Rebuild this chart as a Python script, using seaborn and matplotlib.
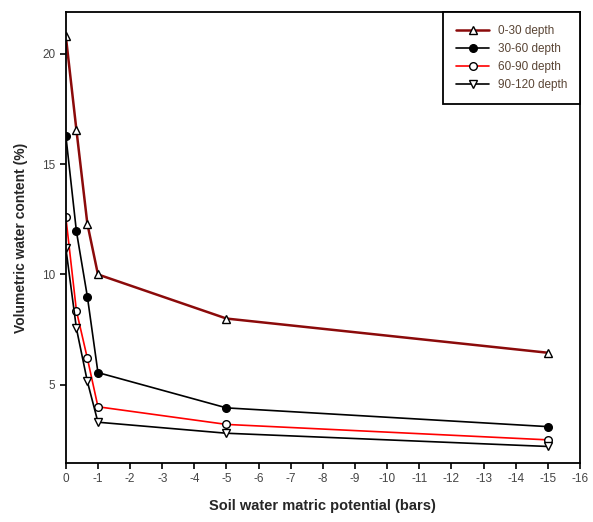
import numpy as np
import pandas as pd
import matplotlib
matplotlib.use("Agg")
import matplotlib.pyplot as plt
import seaborn as sns

potential = [0, -0.33, -0.67, -1, -5, -15]
depth_0_30 = [20.8, 16.55, 12.3, 10.0, 8.0, 6.45]
depth_30_60 = [16.3, 11.95, 9.0, 5.55, 3.95, 3.1]
depth_60_90 = [12.6, 8.35, 6.2, 4.0, 3.2, 2.5]
depth_90_120 = [11.2, 7.55, 5.15, 3.3, 2.8, 2.2]
labels = ["0-30 depth", "30-60 depth", "60-90 depth", "90-120 depth"]
x_ticks = list(range(0, -17, -1))
y_ticks = [5, 10, 15, 20]

sns.set_theme(style="ticks")
plt.rcParams['font.family'] = ['Liberation Sans', 'DejaVu Sans']

fig = plt.figure(figsize=(5.93, 5.22), dpi=100)
ax = fig.add_axes([0.111, 0.113, 0.867, 0.864])

styles = [
    dict(color="#8b0a0a", lw=1.8, marker="^", mfc="white", mec="black", ms=5.5),
    dict(color="black", lw=1.2, marker="o", mfc="black", mec="black", ms=5.5),
    dict(color="#ff0000", lw=1.2, marker="o", mfc="white", mec="black", ms=5.5),
    dict(color="black", lw=1.2, marker="v", mfc="white", mec="black", ms=5.5),
]
series = [depth_0_30, depth_30_60, depth_60_90, depth_90_120]

for lab, ys, st in zip(labels, series, styles):
    df = pd.DataFrame({"x": potential, "y": ys})
    sns.lineplot(data=df, x="x", y="y", ax=ax, sort=False, label=lab,
                 color=st["color"], linewidth=st["lw"], marker=st["marker"],
                 markerfacecolor=st["mfc"], markeredgecolor=st["mec"],
                 markersize=st["ms"], markeredgewidth=1.0)

ax.set_xlim(0.0, -16.0)
ax.set_ylim(1.45, 21.9)
ax.set_xticks(x_ticks)
ax.set_xticklabels([str(t) for t in x_ticks])
ax.set_yticks(y_ticks)
ax.tick_params(direction="out", length=4, width=1.2, colors="black",
               labelsize=8.5, labelcolor="#444444")
for s in ax.spines.values():
    s.set_visible(True)
    s.set_color("black")
    s.set_linewidth(1.3)

ax.set_xlabel("Soil water matric potential (bars)", fontsize=10.5, fontweight="bold", labelpad=10)
ax.set_ylabel("Volumetric water content (%)", fontsize=10, fontweight="bold", labelpad=10)

leg = ax.legend(loc="upper right", borderaxespad=0.0, frameon=True, fancybox=False,
                edgecolor="black", fontsize=8.5, handlelength=2.8, borderpad=1.1,
                labelspacing=0.5, framealpha=1, handletextpad=0.7)
leg.get_frame().set_linewidth(1.3)
for t in leg.get_texts():
    t.set_color("#5a4535")

fig.savefig("out.png", dpi=100)
